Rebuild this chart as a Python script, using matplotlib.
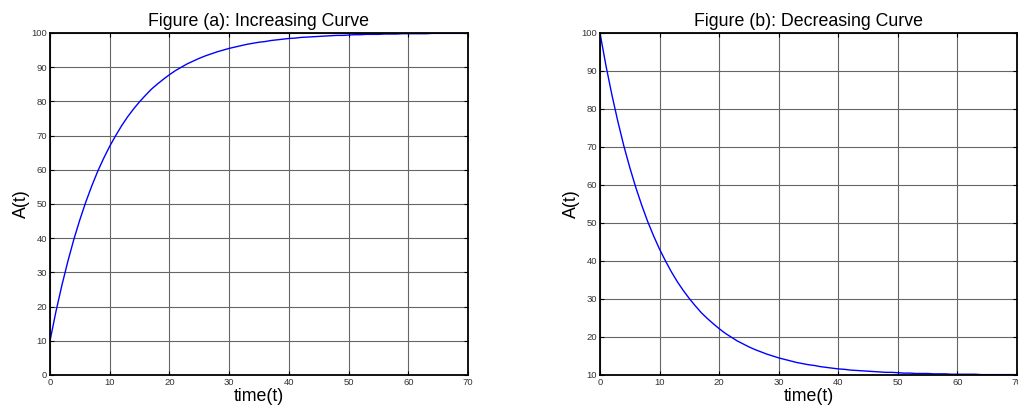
import matplotlib
matplotlib.use("Agg")
import matplotlib.pyplot as plt

plt.rcParams['font.family'] = ['Liberation Sans', 'DejaVu Sans']

# time samples (t = 0 .. 70)
time_t = list(range(0, 71))

# growth toward 100
amount_increasing = [
    10.0, 18.6, 26.3, 33.3, 39.7, 45.4, 50.6, 55.3, 59.6, 63.4,
    66.9, 70.0, 72.9, 75.5, 77.8, 79.9, 81.8, 83.6, 85.1, 86.5,
    87.8, 89.0, 90.0, 91.0, 91.8, 92.6, 93.3, 93.9, 94.5, 95.0,
    95.5, 95.9, 96.3, 96.7, 97.0, 97.3, 97.5, 97.8, 98.0, 98.2,
    98.4, 98.5, 98.7, 98.8, 98.9, 99.0, 99.1, 99.2, 99.3, 99.3,
    99.4, 99.5, 99.5, 99.6, 99.6, 99.6, 99.7, 99.7, 99.7, 99.8,
    99.8, 99.8, 99.8, 99.8, 99.9, 99.9, 99.9, 99.9, 99.9, 99.9,
    99.9,
]

# decay toward 10
amount_decreasing = [
    100.0, 91.4, 83.7, 76.7, 70.3, 64.6, 59.4, 54.7, 50.4, 46.6,
    43.1, 40.0, 37.1, 34.5, 32.2, 30.1, 28.2, 26.4, 24.9, 23.5,
    22.2, 21.0, 20.0, 19.0, 18.2, 17.4, 16.7, 16.1, 15.5, 15.0,
    14.5, 14.1, 13.7, 13.3, 13.0, 12.7, 12.5, 12.2, 12.0, 11.8,
    11.6, 11.5, 11.3, 11.2, 11.1, 11.0, 10.9, 10.8, 10.7, 10.7,
    10.6, 10.5, 10.5, 10.4, 10.4, 10.4, 10.3, 10.3, 10.3, 10.2,
    10.2, 10.2, 10.2, 10.2, 10.1, 10.1, 10.1, 10.1, 10.1, 10.1,
    10.1,
]

titles = ["Figure (a): Increasing Curve", "Figure (b): Decreasing Curve"]
x_ticks = [0, 10, 20, 30, 40, 50, 60, 70]
y_ticks_a = [0, 10, 20, 30, 40, 50, 60, 70, 80, 90, 100]
y_ticks_b = [10, 20, 30, 40, 50, 60, 70, 80, 90, 100]

W, H = 1018, 408
fig = plt.figure(figsize=(W / 100, H / 100), dpi=100)

ax_a = fig.add_axes([50 / W, 1 - 375 / H, (468 - 50) / W, (375 - 33) / H])
ax_b = fig.add_axes([600 / W, 1 - 375 / H, (1017 - 600) / W, (375 - 33) / H])

panels = [
    (ax_a, amount_increasing, y_ticks_a, (0, 100)),
    (ax_b, amount_decreasing, y_ticks_b, (10, 100)),
]

for (ax, values, yticks, ylim), title in zip(panels, titles):
    ax.plot(time_t, values, color='#0000ff', lw=1.0)
    ax.set_xlim(0, 70)
    ax.set_ylim(*ylim)
    ax.set_xticks(x_ticks)
    ax.set_yticks(yticks)
    ax.grid(True, color='0.4', lw=0.8)
    ax.set_axisbelow(True)
    ax.tick_params(direction='in', top=True, right=True, length=3, width=0.8,
                   labelsize=6.8, labelcolor='#333333', pad=2)
    for s in ax.spines.values():
        s.set_linewidth(1.3)
        s.set_color('black')
    ax.set_title(title, fontsize=12.8, pad=5)
    ax.set_xlabel("time(t)", fontsize=12.8, labelpad=1)
    ax.set_ylabel("A(t)", fontsize=12.8, labelpad=1)

fig.savefig("out.png", dpi=100)
